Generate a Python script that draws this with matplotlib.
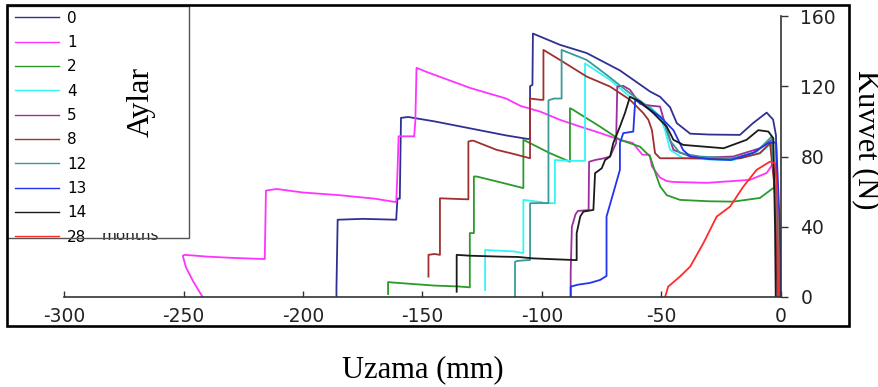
import matplotlib
matplotlib.use('Agg')
import matplotlib.pyplot as plt
from matplotlib.patches import Rectangle

# month labels and colours
months = ['0', '1', '2', '4', '5', '8', '12', '13', '14', '28']
colors = ['#2e3192', '#ff33ff', '#2a9a2a', '#33f5f5', '#9b2f9b',
          '#a03030', '#3a9a9a', '#2233ee', '#1a1a1a', '#ff2a2a']

# elongation (mm) / force (N) traces
x0 = [-186, -186, -185.5, -175, -161, -160.5, -159.5, -159, -156, -145, -130, -115, -106, -105, -105,
      -104, -103.8, -92.5, -81.3, -67.4, -59, -54.8, -50.6, -46.4, -43.6, -38, -30, -17.2, -11.7, -6,
      -3.3, -2.1, -1.5, -1.2]
y0 = [0, 5, 44, 44.5, 44, 56, 56, 102, 102.5, 100, 96, 92, 90, 90, 120,
      120.8, 150, 143.6, 138.9, 129, 121, 117, 114, 108, 99, 93, 92.5, 92.3, 99, 105,
      101, 92, 40, 0]

x1 = [-242, -246, -249, -250.3, -249.5, -240, -230, -216, -215.5, -211, -200, -185, -170, -161, -160.5,
      -160, -153.5, -153, -152.5, -148, -130, -115, -109, -100.8, -92.5, -84, -75.7, -67.4, -62, -58,
      -55, -54, -50.6, -47.8, -45, -31, -13, -6, -3.3, -2, -1.3]
y1 = [0, 9, 17, 23.5, 24, 23, 22.3, 21.6, 60.6, 61.5, 59.5, 58, 56, 54, 70,
      91.5, 91.5, 100, 130.5, 128, 119, 113, 108.8, 105.6, 100.9, 97, 93.4, 89.5, 87.7, 81,
      81, 74.3, 68, 66, 65.5, 65, 66.7, 70.6, 76, 50, 0]

x2 = [-164.4, -164.4, -163, -155, -145, -135, -130.2, -130.2, -128.5, -128.5, -127.3, -118, -107.8, -107.8,
      -105, -96.7, -88.3, -88.3, -87.5, -75.7, -67.4, -59, -54.8, -52, -50.6, -47.8, -42.3, -30, -20,
      -8.8, -3.3, -1.5, -1]
y2 = [1.7, 8.5, 8.3, 7.5, 6.5, 6, 5.5, 36.4, 36.4, 68.6, 68.6, 65.5, 62, 89.5,
      87.6, 81.9, 77, 107.5, 107, 97, 89.5, 85.6, 80, 68.5, 63, 58, 55.3, 54.5, 54.3,
      56.4, 62, 60, 0]

x4 = [-123.8, -123.8, -120, -112, -107.8, -107.8, -100, -99.4, -95, -94.6, -94.6, -88, -82, -82,
      -71.5, -63.2, -59, -54.8, -50.6, -48.5, -46.4, -41, -30, -20, -8.8, -3.9, -1.5, -0.8]
y4 = [4, 26.8, 26.5, 26, 25, 55.3, 54, 53.6, 53.4, 53.4, 78, 77.5, 77.5, 133,
      123.6, 114, 111, 108.4, 102.7, 95, 83.8, 79, 78.3, 78, 81.9, 87.6, 40, 0]

x5 = [-88, -88, -87.5, -86, -85, -80.5, -80.3, -77.8, -74, -71.5, -69, -68.5, -68, -66, -63.2, -59,
      -54.8, -50.6, -47.8, -45, -38, -30, -20, -8.8, -3.9, -1.8, -1.2]
y5 = [0, 14, 40, 47, 49, 49.5, 77, 78, 79, 80, 87.6, 119.8, 120, 120.2, 118, 110,
      109, 108.4, 95, 83.8, 80, 79.5, 80, 84.7, 89.5, 40, 0]

x8 = [-147.5, -147.5, -145, -142.7, -142.7, -135, -130.8, -130.8, -129.5, -128.7, -119, -112, -105, -105,
      -102, -100.8, -99.4, -99.4, -92.5, -81.3, -71.5, -63.2, -57.6, -55.5, -54, -52.7, -50.6, -40,
      -17, -8.8, -4.6, -2.5, -1.5]
y8 = [11.6, 24, 24.5, 24, 56.2, 55.8, 55.6, 88.5, 89, 89, 83.8, 81.5, 79, 113,
      112.5, 112.3, 112.3, 140.7, 135, 125.5, 119.8, 112.3, 104.7, 100.9, 95, 81.9, 79, 79,
      79, 81.9, 87.6, 60, 0]

x12 = [-111.3, -111.3, -110.5, -106.4, -105, -105, -100, -97.3, -97.3, -95, -93.3, -91.8, -91.8, -81.3,
       -73, -63.2, -54.8, -49, -46.4, -42.3, -34, -20, -10.2, -3.9, -1.5, -0.8]
y12 = [0, 20, 20.5, 21, 21, 53.4, 53.5, 53.4, 112, 113, 113, 113, 140.7, 135,
       126.5, 116, 107.5, 100.9, 89, 82, 80, 79, 82.8, 91.3, 40, 0]

x13 = [-88, -88, -85, -80, -75.7, -73, -73, -70, -67.4, -67.4, -66, -61.8, -61, -59, -54.8, -50.6,
       -45, -41, -38, -30, -21, -11.7, -5.4, -2, -0.5, -0.2]
y13 = [0, 5.9, 7, 8, 9.7, 12, 45.8, 60, 72.4, 87.6, 93.3, 94.2, 112.3, 110.4, 106.6, 102.7,
       95, 83.8, 80, 78.5, 78, 82, 87.6, 88, 40, 0]

x14 = [-135.7, -135.7, -130, -117.6, -110, -103.8, -95, -85.5, -85.5, -84, -82.7, -78.5, -77.8, -75,
       -73.6, -71.5, -70.2, -67.4, -65.3, -63.2, -59, -53.4, -47.8, -45, -40.9, -24, -14.4, -9.5,
       -5.3, -3.2, -2.5, -2.2]
y14 = [3, 24, 23.5, 23, 22.8, 22, 21.5, 21, 36.3, 45.8, 48.6, 49.6, 70.5, 73.3,
       78, 80, 87.6, 97, 104.7, 114, 111.3, 104.7, 97, 89.5, 86.6, 84.7, 89.5, 95,
       94.2, 90.4, 40, 0]

x28 = [-48.5, -47.2, -42, -38, -32.5, -26.9, -21.3, -15.8, -10.2, -4.6, -2.5, -1.6, -1.2]
y28 = [0, 5.9, 12, 17.3, 30.6, 45.8, 51.5, 62.8, 72.4, 77.1, 76.2, 60, 0]

xs = [x0, x1, x2, x4, x5, x8, x12, x13, x14, x28]
ys = [y0, y1, y2, y4, y5, y8, y12, y13, y14, y28]

plt.rcParams['axes.unicode_minus'] = False

W, H = 879, 387
fig = plt.figure(figsize=(W / 100, H / 100), dpi=100)
ax = fig.add_axes([64 / W, 1 - 297 / H, (781 - 64) / W, (297 - 16) / H])

lines = []
for x, y, c, m in zip(xs, ys, colors, months):
    ln, = ax.plot(x, y, color=c, lw=1.3, label=m)
    lines.append(ln)

ax.set_xlim(-300, 0)
ax.set_ylim(0, 160)
ax.set_xticks(range(-300, 1, 50))
ax.set_yticks(range(0, 161, 40))
ax.spines['top'].set_visible(False)
ax.spines['left'].set_visible(False)
for s in ['bottom', 'right']:
    ax.spines[s].set_color('#333333')
    ax.spines[s].set_linewidth(1.2)
ax.yaxis.tick_right()
ax.tick_params(axis='x', direction='in', length=4, width=1, color='#333333',
               labelsize=13.5, pad=7, labelcolor='#222222')
ax.tick_params(axis='y', direction='out', length=5, width=1, color='#333333',
               labelsize=13.5, pad=9, labelcolor='#222222')

# legend entries (frame drawn by hand below)
leg = fig.legend(handles=lines, loc='upper left',
                 bbox_to_anchor=(7 / W, 1 - 3 / H), borderaxespad=0, fontsize=11,
                 frameon=False, labelspacing=0.61, handlelength=2.9,
                 handletextpad=0.55, borderpad=0.5)
for h in leg.legend_handles:
    h.set_linewidth(1.0)

# remains of "months", upper part hidden under a white strip
fig.text(102 / W, 1 - 240 / H, 'months', fontsize=11, color='#222222',
         va='baseline', zorder=6)
fig.patches.append(Rectangle((98 / W, 1 - 233 / H), 88 / W, 12 / H, transform=fig.transFigure,
                             facecolor='white', edgecolor='none', zorder=6.5))
fig.patches.append(Rectangle((7 / W, 1 - 238 / H), (189 - 7) / W, (238 - 6) / H,
                             transform=fig.transFigure, fill=False, edgecolor='#555555',
                             lw=1.0, zorder=8))

fig.text(141 / W, 1 - 102 / H, 'Aylar', rotation=90, ha='center', va='center',
         family='Liberation Serif', fontsize=23, zorder=6)
fig.text(866 / W, 1 - 140 / H, 'Kuvvet (N)', rotation=270, ha='center', va='center',
         family='Liberation Serif', fontsize=22)
fig.text(423 / W, 1 - 370 / H, 'Uzama (mm)', ha='center', va='center',
         family='Liberation Serif', fontsize=22)

# outer frame
fig.patches.append(Rectangle((7 / W, 1 - 326 / H), (849 - 7) / W, (326 - 5) / H,
                             transform=fig.transFigure, fill=False, edgecolor='black',
                             lw=1.9, zorder=9))

fig.savefig('out.png', dpi=100)
